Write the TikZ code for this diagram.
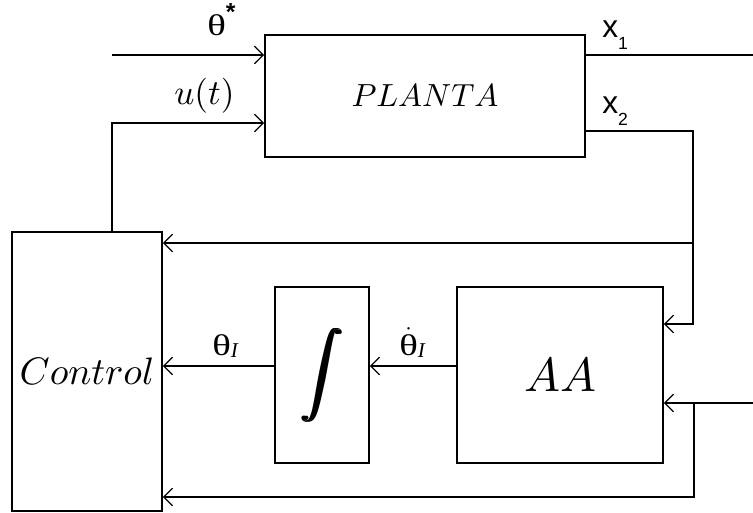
\documentclass[tikz,border=0pt]{standalone}
\usepackage{fontspec}
\usepackage{graphicx}
\usetikzlibrary{arrows.meta,positioning,calc}
\newfontfamily\arialfont{Liberation Sans}
\newfontfamily\timesfont{Liberation Serif}
\newcommand{\wtheta}{\scalebox{1.3}[1]{θ}}
\newcommand{\heavyint}{\makebox[0pt][l]{$\displaystyle\int$}\hspace{0.35pt}\makebox[0pt][l]{$\displaystyle\int$}\hspace{0.35pt}$\displaystyle\int$}

\begin{document}
\begin{tikzpicture}[
  x=0.02cm, y=-0.02cm,
  block/.style={draw,line width=1.1pt,inner sep=0pt},
  wire/.style={line width=1.1pt},
  arrow/.style={wire,-{Straight Barb[length=5pt,width=10pt,line width=0.7pt]}},
  lbl/.style={inner sep=0pt,anchor=base west}
]
\useasboundingbox (0,0) rectangle (753,512);

% blocks
\node[block,minimum width=6.4cm,minimum height=2.44cm] (planta) at (425,96) {\scalebox{1.82}{$PLANTA$}};
\node[block,minimum width=3cm,minimum height=5.58cm] (control) at (87,371.5) {\scalebox{2.18}{$Control$}};
\node[block,minimum width=1.88cm,minimum height=3.52cm] (integ) at (322,375) {\raisebox{-3pt}{\scalebox{2.4}{\heavyint}}};
\node[block,minimum width=4.12cm,minimum height=3.52cm] (aa) at (560,375) {\scalebox{2.73}{$AA$}};

% free ends and corners
\coordinate (thin) at (112,55);
\coordinate (ucorner) at (112,123);
\coordinate (xout) at (753,55);
\coordinate (xturn) at (693,131);
\coordinate (fbtop) at (693,243);
\coordinate (aain) at (693,324);
\coordinate (rin) at (753,403);
\coordinate (rturn) at (694,403);
\coordinate (rlow) at (694,497);
\coordinate (sig) at (400,366);

% connectors
\draw[arrow] (thin) -- (planta.west |- thin);
\draw[arrow] (control.north -| ucorner) -- (ucorner) -- (planta.west |- ucorner);
\draw[wire] (planta.east |- xout) -- (xout);
\draw[arrow] (planta.east |- xturn) -- (xturn) -- (aain) -- (aa.east |- aain);
\draw[arrow] (fbtop) -- (control.east |- fbtop);
\draw[arrow] (rin) -- (aa.east |- rin);
\draw[arrow] (rturn) -- (rlow) -- (control.east |- rlow);
\draw[arrow] (aa.west |- sig) -- (integ.east |- sig);
\draw[arrow] (integ.west |- sig) -- (control.east |- sig);

% labels
\node[lbl] (thetastar) at (207,35) {\timesfont\fontsize{17}{19}\selectfont\wtheta\raisebox{8pt}{\arialfont\bfseries\fontsize{14}{15}\selectfont *}};
\node[lbl] (ulbl) at (174,104) {\scalebox{2.0}{$u(t)$}};
\node[lbl] (xone) at (602,37) {\arialfont\fontsize{18}{20}\selectfont x\raisebox{-7pt}{\fontsize{10}{11}\selectfont 1}};
\node[lbl] (xtwo) at (602,113) {\arialfont\fontsize{18}{20}\selectfont x\raisebox{-7pt}{\fontsize{10}{11}\selectfont 2}};
\node[lbl] (thetai) at (212,355) {\timesfont\fontsize{17}{19}\selectfont\wtheta\raisebox{-1.5pt}{\itshape\fontsize{12}{13}\selectfont I}};
\node[lbl] (dthetai) at (399,355) {\timesfont\fontsize{17}{19}\selectfont $\dot{\mbox{\wtheta}}$\raisebox{-1.5pt}{\itshape\fontsize{12}{13}\selectfont I}};
\end{tikzpicture}
\end{document}
